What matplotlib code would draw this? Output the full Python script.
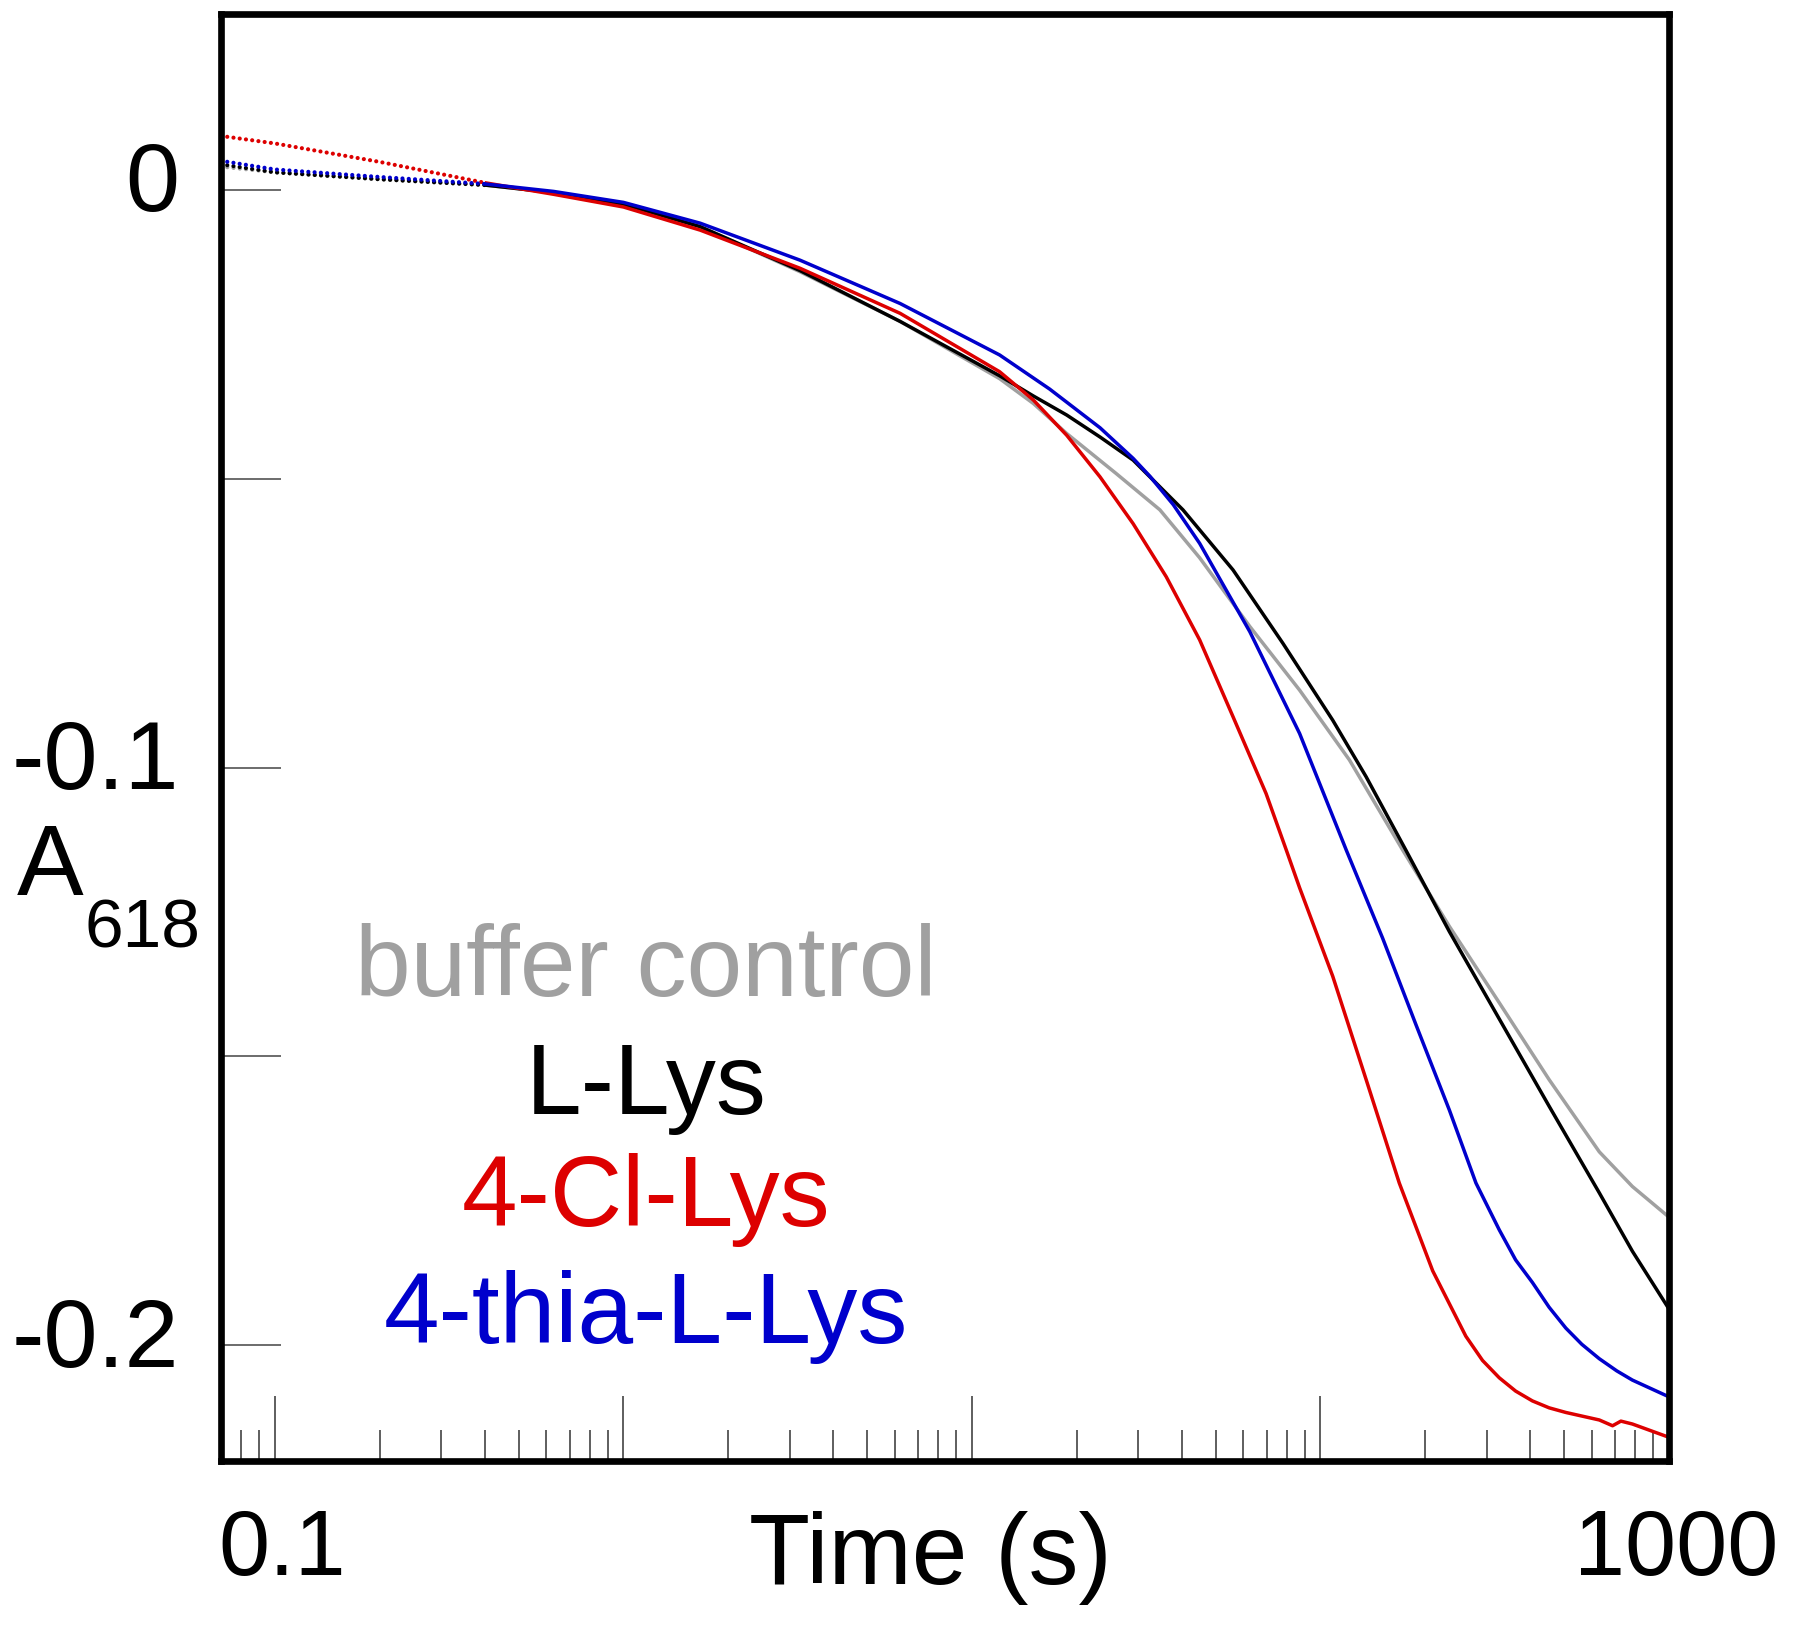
import matplotlib
matplotlib.use("Agg")
import matplotlib.pyplot as plt
import matplotlib.transforms as mtransforms
import numpy as np
from matplotlib.ticker import FixedLocator, NullFormatter

plt.rcParams['font.family'] = ['Liberation Sans', 'DejaVu Sans']

# ---- data ----
series_names = ["buffer control", "L-Lys", "4-Cl-Lys", "4-thia-L-Lys"]
series_colors = ["#a0a0a0", "#000000", "#dd0000", "#0000cc"]

t_buffer = [0.07, 0.1, 0.2, 0.4, 0.63, 1.0, 1.66, 3.21, 6.22, 12.0, 15.0, 18.7, 25.9, 34.6, 45.0,
            62.7, 87.1, 121.1, 172.2, 234.4, 325.8, 452.9, 631, 785.2, 1000]
a_buffer = [0.004, 0.003, 0.0018, 0.0008, -0.0005, -0.0025, -0.0064, -0.0142, -0.0228, -0.0327,
            -0.037, -0.0422, -0.0491, -0.0554, -0.0637, -0.0756, -0.0866, -0.0987, -0.1143, -0.1275,
            -0.1407, -0.154, -0.1665, -0.1725, -0.1778]

t_lys = [0.07, 0.1, 0.2, 0.4, 0.63, 1.0, 1.66, 3.21, 6.22, 12.0, 15.0, 18.7, 23.3, 29.0, 40.3, 56.1,
         78.0, 108.4, 135.2, 175.8, 234.4, 325.8, 452.9, 631, 785.2, 1000]
a_lys = [0.0044, 0.003, 0.0018, 0.0008, -0.0005, -0.0025, -0.0064, -0.014, -0.0228, -0.0322, -0.0357,
         -0.039, -0.0428, -0.0468, -0.0554, -0.0658, -0.0785, -0.0918, -0.1016, -0.1143, -0.1284,
         -0.1435, -0.1586, -0.1736, -0.1837, -0.1937]

t_cl = [0.07, 0.1, 0.2, 0.4, 0.63, 1.0, 1.66, 3.21, 6.22, 12.0, 15.0, 18.7, 23.3, 29.0, 36.1, 45.0,
        56.1, 69.8, 79.8, 87.1, 108.4, 135.2, 168.3, 209.9, 261.2, 291.7, 325.8, 363, 405.5, 453,
        505.8, 631, 688.7, 727.8, 785.2, 1000]
a_cl = [0.0093, 0.008, 0.0048, 0.0012, -0.0008, -0.003, -0.007, -0.0136, -0.0214, -0.0315, -0.0364,
        -0.0425, -0.0497, -0.0578, -0.067, -0.0779, -0.0912, -0.1045, -0.1143, -0.1208, -0.1361,
        -0.154, -0.1719, -0.1871, -0.1984, -0.2026, -0.2056, -0.2079, -0.2096, -0.2108, -0.2116,
        -0.2129, -0.2139, -0.2131, -0.2136, -0.2159]

t_thia = [0.07, 0.1, 0.2, 0.4, 0.63, 1.0, 1.66, 3.21, 6.22, 12.0, 16.7, 23.3, 29.0, 32.4, 37.8, 45.0,
          62.7, 87.1, 118.6, 150.7, 187.9, 234.4, 279.3, 325.8, 363, 405.5, 453, 505.8, 562, 631,
          708, 785.2, 1000]
a_thia = [0.005, 0.0035, 0.0022, 0.001, -0.0003, -0.0022, -0.0058, -0.0122, -0.0197, -0.0286, -0.0345,
          -0.0412, -0.0465, -0.0496, -0.0545, -0.0612, -0.0765, -0.0941, -0.1143, -0.1295, -0.1445,
          -0.1593, -0.1719, -0.1800, -0.1852, -0.1891, -0.1934, -0.197, -0.1998, -0.2023, -0.2044,
          -0.206, -0.2089]

series_t = [t_buffer, t_lys, t_cl, t_thia]
series_a = [a_buffer, a_lys, a_cl, a_thia]

y_ticks = [0, -0.05, -0.1, -0.15, -0.2]
y_ticklabels = ["0", "", "-0.1", "", "-0.2"]
x_major = [0.1, 1, 10, 100, 1000]
x_ticklabels = ["0.1", "", "", "", "1000"]
dotted_until = 0.4

# ---- figure ----
fig = plt.figure(figsize=(18, 16.26), dpi=100)
ax = fig.add_axes([221/1800, 165/1626, (1669-221)/1800, (1461-14)/1626])

for t, a, c in zip(series_t, series_a, series_colors):
    t = np.array(t); a = np.array(a)
    early = t <= dotted_until
    late = t >= dotted_until
    ax.plot(t[early], a[early], color=c, lw=3.0, linestyle=(0, (0.01, 1.5)),
            dash_capstyle='round')
    ax.plot(t[late], a[late], color=c, lw=2.5, solid_capstyle='butt', solid_joinstyle='round')

ax.set_xscale('log')
ax.set_xlim(0.07, 1000)
ax.set_ylim(-0.22, 0.0304)

ax.xaxis.set_major_locator(FixedLocator(x_major))
ax.set_xticklabels(x_ticklabels)
minors = [m * 10.0**e for e in range(-2, 3) for m in range(2, 10)]
ax.xaxis.set_minor_locator(FixedLocator(minors))
ax.xaxis.set_minor_formatter(NullFormatter())
ax.set_yticks(y_ticks)
ax.set_yticklabels(y_ticklabels)

ax.tick_params(axis='x', which='major', direction='in', length=47, width=1.1, color='#333333',
               labelsize=66, pad=34)
ax.tick_params(axis='x', which='minor', direction='in', length=22, width=1.1, color='#333333')
ax.tick_params(axis='y', which='major', direction='in', length=43, width=1.1, color='#444444',
               labelsize=70, pad=30)
for s in ax.spines.values():
    s.set_linewidth(4.8)

off_y = mtransforms.ScaledTranslation(0, 10/72, fig.dpi_scale_trans)
for lab in ax.get_yticklabels():
    lab.set_transform(lab.get_transform() + off_y)
off_x = mtransforms.ScaledTranslation(5/72, 0, fig.dpi_scale_trans)
for lab in ax.get_xticklabels():
    lab.set_transform(lab.get_transform() + off_x)

# axis titles
fig.text(930/1800, 1 - 1558/1626, "Time (s)", fontsize=72, ha='center', va='center')
fig.text(17/1800, 1 - 895/1626, "A", fontsize=72, ha='left', va='baseline')
fig.text(84/1800, 1 - 947/1626, "618", fontsize=50, ha='left', va='baseline')

# legend-like labels
baselines = [996, 1114, 1226, 1343]
for name, c, b in zip(series_names, series_colors, baselines):
    fig.text(646/1800, 1 - b/1626, name, fontsize=72, color=c, ha='center', va='baseline')

fig.savefig("out.png", dpi=100)
